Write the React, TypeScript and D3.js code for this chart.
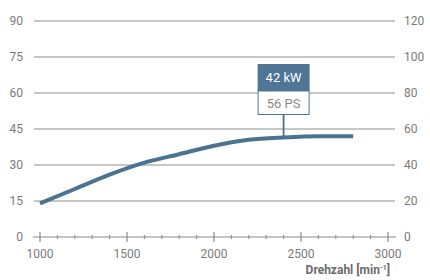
import React, { useEffect, useRef } from 'react';
import * as d3 from 'd3';

// engine power curve (kW over rpm)
const rpm = [1000, 1200, 1400, 1600, 1800, 2000, 2200, 2400, 2600, 2800];
const kw = [14, 20, 26, 31, 34.5, 38, 40.5, 41.5, 42, 42];
const leftTicks = [0, 15, 30, 45, 60, 75, 90];
const rightTicks = [0, 20, 40, 60, 80, 100, 120];
const xTicks = [1000, 1500, 2000, 2500, 3000];
const peakRpm = 2400;
const peakKw = '42 kW';
const peakPs = '56 PS';

export default function App() {
  const svgRef = useRef<SVGSVGElement>(null);

  useEffect(() => {
    const width = 430;
    const height = 280;
    const svg = d3.select(svgRef.current);
    svg.selectAll('*').remove();
    svg.attr('width', width).attr('height', height);

    const font = "Roboto, 'DejaVu Sans Condensed', sans-serif";
    const grey = '#7a7a7a';

    const x = d3.scaleLinear().domain([1000, 3000]).range([40, 388]);
    const yL = d3.scaleLinear().domain([0, 90]).range([237, 21]);
    const yR = d3.scaleLinear().domain([0, 120]).range([237, 21]);

    const g = svg.append('g');

    // gridlines
    leftTicks.filter(t => t > 0).forEach(t => {
      g.append('line')
        .attr('x1', 34).attr('x2', 395)
        .attr('y1', yL(t)).attr('y2', yL(t))
        .attr('stroke', '#b4b4b4').attr('stroke-width', 1.6);
    });

    // x axis line
    g.append('line')
      .attr('x1', 33).attr('x2', 396)
      .attr('y1', yL(0)).attr('y2', yL(0))
      .attr('stroke', '#8a8a8a').attr('stroke-width', 1.2);

    d3.range(1000, 3001, 100).forEach(r => {
      const major = r % 500 === 0;
      g.append('line')
        .attr('x1', x(r)).attr('x2', x(r))
        .attr('y1', yL(0) - (major ? 5 : 2)).attr('y2', yL(0) + (major ? 5 : 2))
        .attr('stroke', '#8a8a8a').attr('stroke-width', major ? 1.2 : 1);
    });

    leftTicks.forEach(t => {
      g.append('text')
        .attr('x', 23).attr('y', yL(t)).attr('dy', '0.35em')
        .attr('text-anchor', 'end')
        .attr('font-family', font).attr('font-size', 12).attr('fill', grey)
        .text(t);
    });
    rightTicks.forEach(t => {
      g.append('text')
        .attr('x', 404).attr('y', yR(t)).attr('dy', '0.35em')
        .attr('text-anchor', 'start')
        .attr('font-family', font).attr('font-size', 12).attr('fill', grey)
        .text(t);
    });
    xTicks.forEach(t => {
      g.append('text')
        .attr('x', x(t)).attr('y', 258)
        .attr('text-anchor', 'middle')
        .attr('font-family', font).attr('font-size', 12).attr('fill', grey)
        .text(t);
    });

    const lbl = g.append('text')
      .attr('x', 390).attr('y', 274)
      .attr('text-anchor', 'end')
      .attr('font-family', font).attr('font-size', 12).attr('font-weight', 'bold').attr('fill', '#6a6a6a');
    lbl.append('tspan').text('Drehzahl [min');
    lbl.append('tspan').attr('dy', -4).attr('font-size', 7).text('-1');
    lbl.append('tspan').attr('dy', 4).text(']');

    // curve
    const line = d3.line<number>()
      .x((_, i) => x(rpm[i]))
      .y(d => yL(d))
      .curve(d3.curveMonotoneX);
    g.append('path')
      .datum(kw)
      .attr('d', line)
      .attr('fill', 'none')
      .attr('stroke', '#4a7391')
      .attr('stroke-width', 4)
      .attr('stroke-linecap', 'butt');

    // callout
    const cx = x(peakRpm);
    const peakY = yL(kw[rpm.indexOf(peakRpm)]);
    const bw = 52, top = 64, mid = 91, bot = 115;
    g.append('line')
      .attr('x1', cx).attr('x2', cx)
      .attr('y1', bot).attr('y2', peakY)
      .attr('stroke', '#4a7391').attr('stroke-width', 1.8);
    g.append('rect')
      .attr('x', cx - bw / 2).attr('y', top)
      .attr('width', bw).attr('height', mid - top)
      .attr('fill', '#4f7696');
    g.append('rect')
      .attr('x', cx - bw / 2 + 0.5).attr('y', mid)
      .attr('width', bw - 1).attr('height', bot - mid - 0.5)
      .attr('fill', '#fff').attr('stroke', '#4f7696').attr('stroke-width', 1);
    g.append('text')
      .attr('x', cx).attr('y', (top + mid) / 2).attr('dy', '0.36em')
      .attr('text-anchor', 'middle')
      .attr('font-family', font).attr('font-size', 13).attr('fill', '#fff')
      .text(peakKw);
    g.append('text')
      .attr('x', cx).attr('y', (mid + bot) / 2).attr('dy', '0.36em')
      .attr('text-anchor', 'middle')
      .attr('font-family', font).attr('font-size', 13).attr('fill', '#8a8a8a')
      .text(peakPs);
  }, []);

  return (
    <div style={{ position: 'fixed', left: 0, top: 0, width: 430, height: 280, background: '#fff' }}>
      <svg ref={svgRef} style={{ display: 'block' }} />
    </div>
  );
}
